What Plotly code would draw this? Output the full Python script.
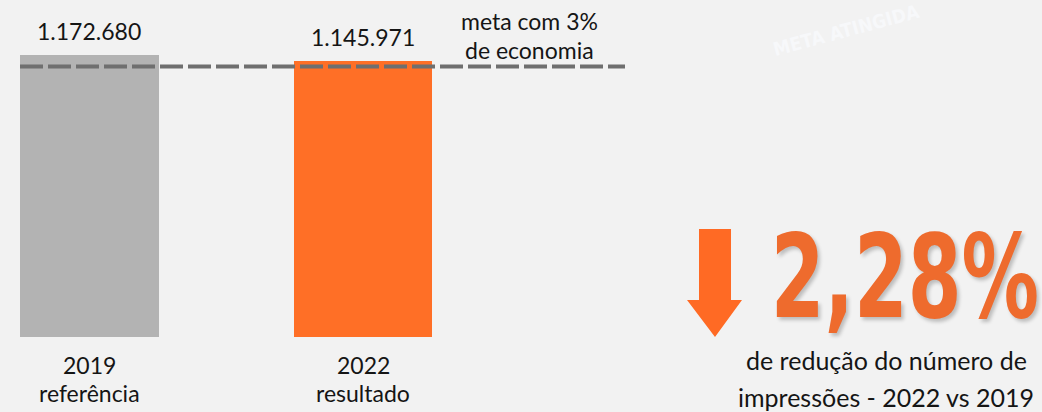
import plotly.graph_objects as go

# ---- data ----
years = ["2019", "2022"]
subtitles = ["referência", "resultado"]
values = [1172680, 1145971]
value_labels = ["1.172.680", "1.145.971"]
meta_value = 1125000
meta_label = ["meta com 3%", "de economia"]
reduction_label = "2,28%"
reduction_text = ["de redução do número de", "impressões - 2022 vs 2019"]
bar_colors = ["#B3B3B3", "#FF6F26"]

W, H = 1042, 412
PLOT_BOTTOM = 337  # pixel row of plot bottom


def px(x):
    return x / W


def py(y):
    return (PLOT_BOTTOM - y) / PLOT_BOTTOM


FONT = "Lato"
TXT = "#151515"
BIG_FONT = "DejaVu Sans Condensed, Liberation Sans Narrow, sans-serif"

xs = list(range(len(years)))

fig = go.Figure()
fig.add_trace(go.Bar(
    x=xs, y=values, width=0.508,
    marker=dict(color=bar_colors, line=dict(width=0)),
    hoverinfo="skip",
))

annotations = []


def note(x, y, text, size=23, xref="paper", yref="paper", **kw):
    d = dict(x=x, y=y, xref=xref, yref=yref, text=text, showarrow=False,
             xanchor="center", yanchor="middle",
             font=dict(family=FONT, size=size, color=TXT))
    d.update(kw)
    annotations.append(d)


for i, (v, lab) in enumerate(zip(values, value_labels)):
    note(xs[i], v, lab, xref="x", yref="y", yanchor="bottom", yshift=8)
    note(xs[i], py(365), years[i], xref="x")
    note(xs[i], py(393), subtitles[i], xref="x")

note(px(529), py(21), meta_label[0])
note(px(529), py(50), meta_label[1])

note(px(886), py(360), reduction_text[0], size=25)
note(px(886), py(397), reduction_text[1], size=25)

# big percentage with soft shadow
annotations.append(dict(x=px(905), y=py(277), xref="paper", yref="paper", text=reduction_label,
                        showarrow=False, xanchor="center", yanchor="middle",
                        font=dict(family=BIG_FONT, size=96, color="#EE6B2D", weight="bold",
                                  shadow="3px 3px 4px rgba(0,0,0,0.22)")))

# faint watermark
annotations.append(dict(x=px(846), y=py(30), xref="paper", yref="paper", text="META ATINGIDA",
                        showarrow=False, textangle=-15, xanchor="center", yanchor="middle",
                        font=dict(family=BIG_FONT, size=19, color="#F7F8FA", weight="bold")))

arrow_pts = [(699, 229), (731, 229), (731, 300), (742, 300), (715, 337), (687, 300), (699, 300)]
path = "M " + " L ".join(f"{px(a):.5f},{py(b):.5f}" for a, b in arrow_pts) + " Z"

shapes = [
    dict(type="line", xref="paper", yref="y", x0=px(20), x1=px(625), y0=meta_value, y1=meta_value,
         line=dict(color="#6F6F6F", width=4, dash="23px,5px"), layer="above"),
    dict(type="path", xref="paper", yref="paper", path=path,
         fillcolor="#FF6A24", line=dict(width=0)),
]

fig.update_layout(
    width=W, height=H,
    margin=dict(l=0, r=0, t=0, b=H - PLOT_BOTTOM, pad=0),
    paper_bgcolor="#F2F2F2", plot_bgcolor="rgba(0,0,0,0)",
    showlegend=False,
    xaxis=dict(range=[-0.3272, 3.4826], visible=False, fixedrange=True),
    yaxis=dict(range=[0, values[0] * PLOT_BOTTOM / 282], visible=False, fixedrange=True),
    annotations=annotations, shapes=shapes,
    bargap=0,
)

post = """
document.body.style.margin='0';
document.body.style.background='#F2F2F2';
(function(){
  var gd=document.getElementById('{plot_id}');
  function fix(){
    document.querySelectorAll('text.annotation-text').forEach(function(t){
      if(t.textContent==='2,28%'){
        t.removeAttribute('transform');
        var b=t.getBBox(); var cx=b.x+b.width/2, cy=b.y+b.height/2;
        t.setAttribute('transform','translate('+cx+','+cy+') scale(0.895,1.2) translate('+(-cx)+','+(-cy)+')');
      }
    });
  }
  fix();
  if(gd && gd.on){ gd.on('plotly_afterplot', fix); }
})();
"""

fig.write_html("out.html", config={"displayModeBar": False}, post_script=post)
